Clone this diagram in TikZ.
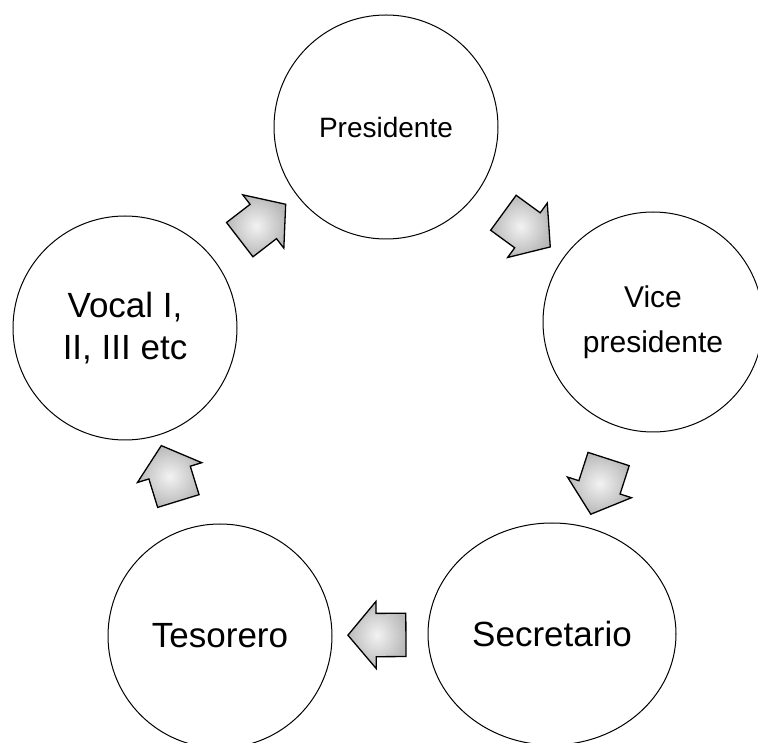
\documentclass[tikz,border=0pt]{standalone}
\usepackage{fontspec}
\setmainfont{Liberation Sans}
\usetikzlibrary{shapes.geometric,shapes.arrows,calc}

\begin{document}
\begin{tikzpicture}[x=1pt,y=1pt,
  puesto/.style={circle,draw=black,line width=1pt,fill=white,minimum size=224pt,inner sep=0pt,align=center},
  flecha/.style={single arrow,draw=black,line width=1.3pt,inner color=gray!10,outer color=gray!55,
    minimum height=58pt,inner xsep=0pt,inner ysep=21pt,single arrow head extend=12pt,single arrow tip angle=100}]
\useasboundingbox (0,0) rectangle (758,742);
% cargos
\node[puesto,font=\fontsize{28}{34}\selectfont] (pres) at (386,615) {Presidente};
\node[puesto,minimum size=220pt,font=\fontsize{30}{45}\selectfont] (vice) at (653,420) {Vice\\presidente};
\node[puesto,ellipse,minimum width=248pt,minimum height=222pt,font=\fontsize{35}{42}\selectfont] (sec) at (552,108) {Secretario};
\node[puesto,font=\fontsize{35}{42}\selectfont] (tes) at (220,106) {Tesorero};
\node[puesto,font=\fontsize{35}{42}\selectfont] (voc) at (125,414) {Vocal I,\\II, III etc};
% flechas del ciclo
\node[flecha,rotate=37.6] (f1) at ($(voc)!0.5!(pres)$) {};
\node[flecha,rotate=-36.1] (f2) at ($(pres)!0.5!(vice)$) {};
\node[flecha,rotate=-107.9] (f3) at ($(vice)!0.5!(sec)$) {};
\node[flecha,rotate=180.3] (f4) at ($(sec)!0.5!(tes)$) {};
\node[flecha,rotate=107.1] (f5) at ($(tes)!0.5!(voc)$) {};
\end{tikzpicture}
\end{document}
